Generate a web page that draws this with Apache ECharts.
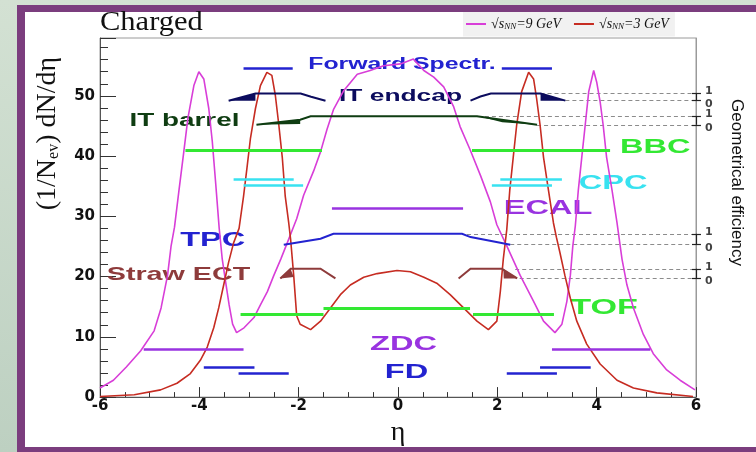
<!DOCTYPE html>
<html>
<head>
<meta charset="utf-8">
<script src="https://cdn.jsdelivr.net/npm/echarts@6/dist/echarts.min.js"></script>
<style>
  html, body { margin: 0; padding: 0; width: 756px; height: 452px; overflow: hidden;
    background: linear-gradient(180deg, #d3e1d3 0%, #bdd0c1 100%); }
  #frame { position: absolute; left: 17px; top: 5px; width: 760px; height: 460px; background: #7b3d7e; }
  #panel { position: absolute; left: 25px; top: 12px; width: 740px; height: 435px; background: #ffffff; }
  #chart { position: absolute; left: 0; top: 0; width: 756px; height: 452px; }
</style>
</head>
<body>
<div id="frame"></div>
<div id="panel"></div>
<div id="chart"></div>
<script>
// ---- pseudorapidity distributions of charged particles ----
const eta9 = [-6.00, -5.73, -5.47, -5.18, -4.91, -4.77, -4.64, -4.57, -4.50, -4.41, -4.31, -4.23, -4.11, -4.01,
  -3.91, -3.81, -3.74, -3.67, -3.60, -3.54, -3.47, -3.40, -3.33, -3.25, -3.10, -2.90, -2.77, -2.63, -2.50,
  -2.36, -2.23, -2.04, -1.90, -1.70, -1.56, -1.43, -1.30, -1.09, -0.82, -0.56, -0.29, 0.05, 0.31, 0.52,
  0.72, 0.92, 1.12, 1.25, 1.45, 1.66, 1.86, 1.99, 2.19, 2.46, 2.73, 2.93, 3.16, 3.30, 3.40, 3.47, 3.52,
  3.57, 3.63, 3.70, 3.77, 3.84, 3.90, 3.94, 4.00, 4.07, 4.13, 4.20, 4.31, 4.41, 4.51, 4.61, 4.74, 4.94,
  5.14, 5.41, 5.68, 5.98];
const dN9 = [1.5, 2.8, 5.0, 7.7, 11.0, 14.8, 20.2, 25.0, 28.2, 34.3, 40.9, 46.3, 51.7, 54.0,
  52.8, 47.9, 42.5, 35.4, 28.0, 23.0, 19.1, 15.3, 12.1, 10.7, 11.5, 13.2, 15.3, 17.5, 20.2,
  22.9, 25.6, 29.6, 33.5, 37.5, 40.7, 44.4, 47.7, 50.9, 53.6, 54.2, 55.0, 55.3, 56.1, 54.2,
  53.1, 51.5, 48.2, 44.9, 41.1, 36.8, 32.4, 28.6, 25.1, 20.2, 15.9, 12.6, 10.7, 12.1, 15.9, 20.2, 25.1,
  28.4, 34.3, 39.8, 45.2, 50.7, 52.8, 54.2, 52.3, 49.0, 45.2, 39.8, 34.3, 28.9, 22.9, 18.6, 14.8, 10.4,
  7.2, 4.5, 2.8, 1.2];

const eta3 = [-6.00, -5.31, -4.78, -4.45, -4.18, -3.98, -3.84, -3.71, -3.61, -3.51, -3.41, -3.31, -3.20,
  -3.11, -3.04, -2.97, -2.87, -2.77, -2.64, -2.54, -2.47, -2.40, -2.33, -2.27, -2.20, -2.16, -2.10, -2.04,
  -1.97, -1.76, -1.56, -1.36, -1.16, -0.96, -0.69, -0.42, -0.02, 0.25, 0.52, 0.78, 1.05, 1.32, 1.59, 1.82,
  1.99, 2.06, 2.12, 2.19, 2.25, 2.32, 2.39, 2.49, 2.63, 2.73, 2.79, 2.86, 2.93, 3.03, 3.13, 3.19, 3.26,
  3.36, 3.47, 3.60, 3.80, 4.07, 4.41, 4.74, 5.21, 5.94];
const dN3 = [0.1, 0.4, 1.2, 2.3, 3.9, 6.1, 8.3, 11.5, 14.8, 18.6, 22.4, 25.6, 28.0,
  33.3, 38.1, 43.0, 47.9, 51.7, 53.9, 53.4, 50.1, 45.2, 39.8, 33.3, 28.9, 26.0, 20.2, 13.5,
  12.1, 11.2, 12.6, 14.8, 17.0, 18.6, 19.9, 20.5, 21.0, 20.8, 19.9, 18.9, 17.0, 14.8, 12.6, 11.2,
  12.6, 17.5, 22.9, 27.8, 34.3, 39.8, 45.2, 50.7, 53.9, 52.8, 49.6, 45.2, 39.8, 34.3, 28.9, 26.5, 24.0,
  20.2, 16.4, 12.6, 8.8, 5.5, 2.8, 1.5, 0.7, 0.1];

// ---- detector acceptances: [eta from, eta to, drawing level] ----
const fsBars   = [[-3.11, -2.12, 54.6], [2.09, 3.10, 54.6]];
const bbcBars  = [[-4.28, -1.53, 41.0], [1.49, 4.27, 41.0]];
const cpcBars  = [[-3.31, -2.10, 36.1], [-3.11, -1.91, 35.2], [2.06, 3.30, 36.1], [1.89, 3.10, 35.2]];
const ecalBars = [[-1.33, 1.31, 31.3]];
const tofBars  = [[-3.17, -1.50, 13.8], [-1.50, 1.45, 14.8], [1.51, 3.14, 13.8]];
const zdcBars  = [[-5.12, -3.11, 8.0], [3.10, 5.08, 8.0]];
const fdBars   = [[-3.91, -2.89, 5.0], [-3.21, -2.20, 4.0], [2.86, 3.88, 5.0], [2.19, 3.20, 4.0]];

// ---- geometrical efficiency curves, each on its own 0..1 scale ----
// levels: [value drawn for efficiency 0, value drawn for efficiency 1]
const endcapLevels = [49.2, 50.4];
const endcapEta = [[-3.41, -2.87, -1.96, -1.75, -1.46], [1.46, 1.66, 1.87, 2.87, 3.37]];
const endcapEff = [[0, 1, 1, 0.55, 0], [0, 0.58, 1, 1, 0]];
const endcapWedges = [[[-3.41, 0], [-2.87, 1], [-2.87, 0]], [[2.87, 1], [3.37, 0], [2.87, 0]]];
const endcapRefFrom = [3.37, 2.87];

const barrelLevels = [45.2, 46.6];
const barrelEta = [[-2.85, -1.97, -1.76, 1.59, 2.80]];
const barrelEff = [[0, 0.6, 1, 1, 0]];
const barrelWedges = [[[-2.85, 0], [-1.97, 0.6], [-1.97, 0.1]], [[1.70, 0.9], [2.80, 0], [2.10, 0.3]]];
const barrelRefFrom = [2.80, 1.75];

const tpcLevels = [25.3, 27.1];
const tpcEta = [[-2.30, -1.56, -1.30, 1.29, 1.46, 2.06, 2.26]];
const tpcEff = [[0, 0.55, 1, 1, 0.7, 0.17, 0]];
const tpcRefFrom = [2.26, 1.39];

const strawLevels = [19.7, 21.3];
const strawEta = [[-2.37, -2.16, -1.56, -1.26], [1.22, 1.46, 2.09, 2.40]];
const strawEff = [[0, 1, 1, 0], [0, 1, 1, 0]];
const strawWedges = [[[-2.37, 0], [-2.16, 0.95], [-2.10, 0.15]], [[2.12, 1], [2.40, 0], [2.13, 0]]];
const strawRefFrom = [2.45, 2.36];

// ---- axis ranges ----
const etaMin = -6, etaMax = 6, etaStep = 2;
const dnMin = 0, dnMax = 59.6, dnStep = 10;

// ---- detector names and where they are written ----
const annotations = [
  { text: 'Forward Spectr.', at: [0.08, 55.2], size: 16, color: '#2323d0' },
  { text: 'IT endcap',       at: [0.05, 50.0], size: 17, color: '#0c0c5e' },
  { text: 'IT barrel',       at: [-4.30, 45.8], size: 18, color: '#0f3d12' },
  { text: 'BBC',             at: [5.18, 41.5], size: 21, color: '#33e833' },
  { text: 'CPC',             at: [4.33, 35.5], size: 21, color: '#38e2f0' },
  { text: 'ECAL',            at: [3.02, 31.3], size: 21, color: '#9933e0' },
  { text: 'TPC',             at: [-3.73, 26.1], size: 21, color: '#2323d0' },
  { text: 'Straw ECT',       at: [-4.42, 20.2], size: 18.5, color: '#8e3b3b' },
  { text: 'TOF',             at: [4.15, 14.8], size: 22, color: '#33e833' },
  { text: 'ZDC',             at: [0.11, 8.8], size: 21, color: '#9933e0' },
  { text: 'FD',              at: [0.17, 4.2], size: 21, color: '#2323d0' }
];

const C = {
  mag: '#d83ed8', red: '#c62c22', blue: '#2323d0', navy: '#0c0c5e', dkgreen: '#0f3d12',
  green: '#33e833', cyan: '#38e2f0', purple: '#9933e0', brown: '#8e3b3b', ref: '#8c8c8c'
};

const lv = (levels, e) => levels[0] + e * (levels[1] - levels[0]);
const pairs = (xs, ys) => xs.map((x, i) => [x, ys[i]]);
const barData = bars => bars.map(b => ({ coords: [[b[0], b[2]], [b[1], b[2]]] }));
const effData = (etas, effs, levels) =>
  etas.map((row, k) => ({ coords: row.map((x, i) => [x, lv(levels, effs[k][i])]) }));
const refData = (from, levels) => [
  { coords: [[from[0], levels[0]], [etaMax, levels[0]]] },
  { coords: [[from[1], levels[1]], [etaMax, levels[1]]] }
];
const markData = levels => [
  { coords: [[5.92, levels[0]], [6.10, levels[0]]] },
  { coords: [[5.92, levels[1]], [6.10, levels[1]]] },
  { coords: [[6.0, levels[0]], [6.0, levels[1]]] }
];

function barSeries(bars, color, width) {
  return { type: 'lines', coordinateSystem: 'cartesian2d', polyline: false, z: 5, silent: true,
    lineStyle: { color, width, opacity: 1 }, data: barData(bars) };
}
function effSeries(etas, effs, levels, color) {
  return { type: 'lines', coordinateSystem: 'cartesian2d', polyline: true, z: 5, silent: true,
    lineStyle: { color, width: 2, opacity: 1 }, data: effData(etas, effs, levels) };
}
function wedgeSeries(wedges, levels, color) {
  return {
    type: 'custom', coordinateSystem: 'cartesian2d', z: 5, silent: true, clip: true,
    data: wedges.map(w => [w[0][0], lv(levels, w[0][1])]),
    renderItem: (params, api) => {
      const pts = wedges[params.dataIndex].map(p => api.coord([p[0], lv(levels, p[1])]));
      return { type: 'polygon', shape: { points: pts }, style: { fill: color } };
    }
  };
}

const allLevels = [endcapLevels, barrelLevels, tpcLevels, strawLevels];
const allRefFrom = [endcapRefFrom, barrelRefFrom, tpcRefFrom, strawRefFrom];

const legendText = { '9 GeV': '√{it|s}{sub|NN}{it|=9 GeV}', '3 GeV': '√{it|s}{sub|NN}{it|=3 GeV}' };

const option = {
  animation: false,
  backgroundColor: 'transparent',
  grid: { left: 100, right: 60, top: 38, bottom: 48, show: true, borderColor: '#9a9a9a', borderWidth: 1 },
  legend: {
    left: 463, top: 12, padding: [5, 6, 5, 3], itemGap: 13, itemWidth: 20, itemHeight: 2,
    icon: 'rect', backgroundColor: '#f1f1f1', data: ['9 GeV', '3 GeV'],
    formatter: n => legendText[n],
    textStyle: {
      color: '#111', fontFamily: 'Liberation Serif', fontSize: 14, fontStyle: 'italic',
      rich: {
        it: { fontFamily: 'Liberation Serif', fontSize: 14, fontStyle: 'italic', color: '#111' },
        sub: { fontFamily: 'Liberation Serif', fontSize: 9, fontStyle: 'italic', color: '#111',
               verticalAlign: 'bottom', padding: [6, 0, 0, 0] }
      }
    }
  },
  xAxis: {
    type: 'value', min: etaMin, max: etaMax, interval: etaStep,
    name: 'η', nameLocation: 'middle', nameGap: 14,
    nameTextStyle: { fontFamily: 'Liberation Serif', fontSize: 28, color: '#111' },
    axisLine: { onZero: false, lineStyle: { color: '#555', width: 1 } },
    axisTick: { inside: true, length: 10, lineStyle: { color: '#333' } },
    minorTick: { show: true, splitNumber: 4, length: 5, lineStyle: { color: '#333' } },
    axisLabel: { margin: 2, fontFamily: 'DejaVu Sans', fontWeight: 'bold', fontSize: 15, color: '#111' },
    splitLine: { show: false }
  },
  yAxis: [
    {
      type: 'value', min: dnMin, max: dnMax, interval: dnStep, position: 'left',
      name: '(1/N{sub|ev}) dN/dη', nameLocation: 'middle', nameRotate: 90, nameGap: 38,
      nameTextStyle: {
        fontFamily: 'Liberation Serif', fontSize: 28, color: '#111', padding: [0, 0, 0, 168],
        rich: { sub: { fontFamily: 'Liberation Serif', fontSize: 16, color: '#111', verticalAlign: 'bottom' } }
      },
      axisLine: { show: true, onZero: false, lineStyle: { color: '#555', width: 1 } },
      axisTick: { inside: true, length: 16, lineStyle: { color: '#333' } },
      minorTick: { show: true, splitNumber: 5, length: 8, lineStyle: { color: '#333' } },
      axisLabel: { margin: 5, showMaxLabel: false, fontFamily: 'DejaVu Sans', fontWeight: 'bold', fontSize: 15, color: '#111' },
      splitLine: { show: false }
    },
    {
      type: 'value', min: dnMin, max: dnMax, position: 'right',
      name: 'Geometrical efficiency', nameLocation: 'middle', nameRotate: -90, nameGap: 32,
      nameTextStyle: { fontFamily: 'Liberation Sans', fontSize: 17, color: '#111', padding: [0, 70, 0, 0] },
      axisLine: { show: true, onZero: false, lineStyle: { color: '#9a9a9a', width: 1 } },
      axisTick: { show: false }, axisLabel: { show: false }, splitLine: { show: false }
    }
  ],
  series: [
    { name: '9 GeV', type: 'line', data: pairs(eta9, dN9), showSymbol: false, symbol: 'none', z: 3,
      lineStyle: { color: C.mag, width: 1.6 }, itemStyle: { color: C.mag }, clip: true },
    { name: '3 GeV', type: 'line', data: pairs(eta3, dN3), showSymbol: false, symbol: 'none', z: 3,
      lineStyle: { color: C.red, width: 1.6 }, itemStyle: { color: C.red }, clip: true },

    barSeries(fsBars, C.blue, 2.5),
    barSeries(bbcBars, C.green, 3),
    barSeries(cpcBars, C.cyan, 2.5),
    barSeries(ecalBars, C.purple, 2.5),
    barSeries(tofBars, C.green, 3),
    barSeries(zdcBars, C.purple, 2.5),
    barSeries(fdBars, C.blue, 2.5),

    effSeries(endcapEta, endcapEff, endcapLevels, C.navy),
    effSeries(barrelEta, barrelEff, barrelLevels, C.dkgreen),
    effSeries(tpcEta, tpcEff, tpcLevels, C.blue),
    effSeries(strawEta, strawEff, strawLevels, C.brown),
    wedgeSeries(endcapWedges, endcapLevels, C.navy),
    wedgeSeries(barrelWedges, barrelLevels, C.dkgreen),
    wedgeSeries(strawWedges, strawLevels, C.brown),

    { type: 'lines', coordinateSystem: 'cartesian2d', z: 2, silent: true,
      lineStyle: { color: C.ref, width: 1, type: [4, 3], opacity: 1 },
      data: allRefFrom.flatMap((f, i) => refData(f, allLevels[i])) },
    { type: 'lines', coordinateSystem: 'cartesian2d', z: 6, silent: true, clip: false,
      lineStyle: { color: '#222', width: 1.2, opacity: 1 },
      data: allLevels.flatMap(markData) },
    { type: 'scatter', symbolSize: 0, z: 6, silent: true, clip: false,
      data: allLevels.map(l => [etaMax, l[1]]),
      label: { show: true, position: 'right', distance: 9, offset: [0, -2], formatter: '1',
               fontFamily: 'DejaVu Sans', fontWeight: 'bold', fontSize: 11, color: '#111' } },
    { type: 'scatter', symbolSize: 0, z: 6, silent: true, clip: false,
      data: allLevels.map(l => [etaMax, l[0]]),
      label: { show: true, position: 'right', distance: 9, offset: [0, 3], formatter: '0',
               fontFamily: 'DejaVu Sans', fontWeight: 'bold', fontSize: 11, color: '#111' } }
  ]
};

const chart = echarts.init(document.getElementById('chart'), null, { renderer: 'canvas' });
chart.setOption(option);

// Detector names are placed in data coordinates, widened like the rest of the lettering.
const texts = annotations.map(a => {
  const p = chart.convertToPixel({ gridIndex: 0 }, a.at);
  return {
    type: 'text', x: p[0], y: p[1], scaleX: 1.55, z: 1, silent: true,
    style: { text: a.text, fill: a.color, align: 'center', verticalAlign: 'middle',
             font: 'bold ' + a.size + 'px "Liberation Sans", Arial, sans-serif' }
  };
});
texts.push({
  type: 'text', x: 100, y: 23, scaleX: 1.13, z: 1, silent: true,
  style: { text: 'Charged', fill: '#111', align: 'left', verticalAlign: 'middle',
           font: '27px "Liberation Serif", "Times New Roman", serif' }
});
chart.setOption({ graphic: { elements: texts } });
</script>
</body>
</html>
